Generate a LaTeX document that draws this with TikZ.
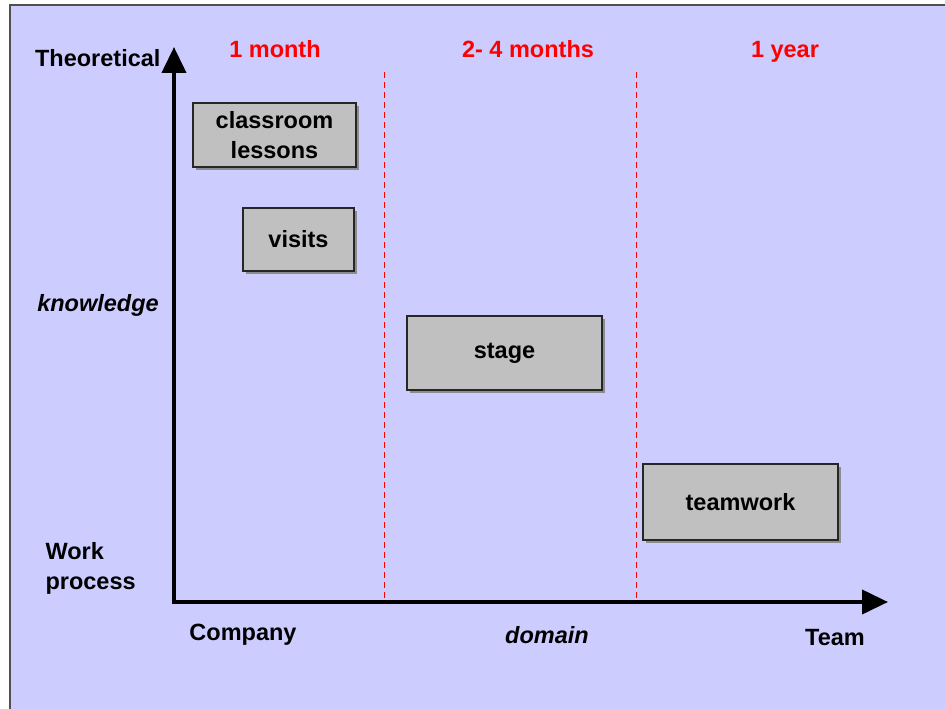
\documentclass[tikz,border=0pt]{standalone}
\usepackage{fontspec}
\setmainfont{Liberation Sans}
\usetikzlibrary{arrows.meta,shadows}
\definecolor{lavender}{HTML}{CCCCFF}
\definecolor{boxgray}{HTML}{C0C0C0}
\definecolor{framegray}{HTML}{505050}
\begin{document}
\begin{tikzpicture}[
x=1pt,y=-1pt,
axis/.style={line width=4pt,line join=miter,
  {Triangle[length=26pt,width=24pt]}-{Triangle[length=26pt,width=24pt]}},
split/.style={red,line width=1pt,dash pattern=on 6pt off 4pt},
label text/.style={font=\fontsize{23.5}{30}\selectfont\bfseries},
period/.style={label text,text=red,anchor=base},
phase box/.style={draw=black!85,line width=1.2pt,fill=boxgray,align=center,
  font=\fontsize{23.5}{30}\selectfont\bfseries,
  drop shadow={shadow xshift=3pt,shadow yshift=-3pt,fill=black!45,opacity=1}}]
\useasboundingbox (0,0) rectangle (945,709);
\fill[white] (0,0) rectangle (945,709);
\draw[framegray,line width=2pt,fill=lavender] (10,5) rectangle (960,730);
%axes
  \coordinate (O) at (174,602);
  \coordinate (ytop) at (174,47);
  \coordinate (xend) at (888,602);
  \draw[axis] (ytop) -- (O) -- (xend);
%splits
  \coordinate (s1top) at (384,72);
  \coordinate (s1bot) at (384,602);
  \coordinate (s2top) at (636,72);
  \coordinate (s2bot) at (636,602);
  \draw[split] (s1top) -- (s1bot);
  \draw[split] (s2top) -- (s2bot);
%periods
  \node[period] (month) at (275,58) {1 month};
  \node[period] (months) at (528,58) {2- 4 months};
  \node[period] (year) at (785,58) {1 year};
%axis labels
  \node[label text,anchor=east] (theo) at (164,58) {Theoretical};
  \node[label text] (know) at (98,305) {\itshape knowledge};
  \node[label text,align=left,anchor=west] (work) at (42,568) {Work\\process};
  \node[label text] (comp) at (243,635) {Company};
  \node[label text] (dom) at (547,635) {\itshape domain};
  \node[label text] (team) at (835,638) {Team};
%boxes
  \node[phase box,minimum width=163pt,minimum height=64pt] (class) at (274.5,135) {classroom\\lessons};
  \node[phase box,minimum width=111pt,minimum height=63pt] (visits) at (298.5,239.5) {visits};
  \node[phase box,minimum width=195pt,minimum height=74pt] (stage) at (504.5,353) {stage};
  \node[phase box,minimum width=195pt,minimum height=76pt] (teamwork) at (740.5,502) {teamwork};
\end{tikzpicture}
\end{document}
